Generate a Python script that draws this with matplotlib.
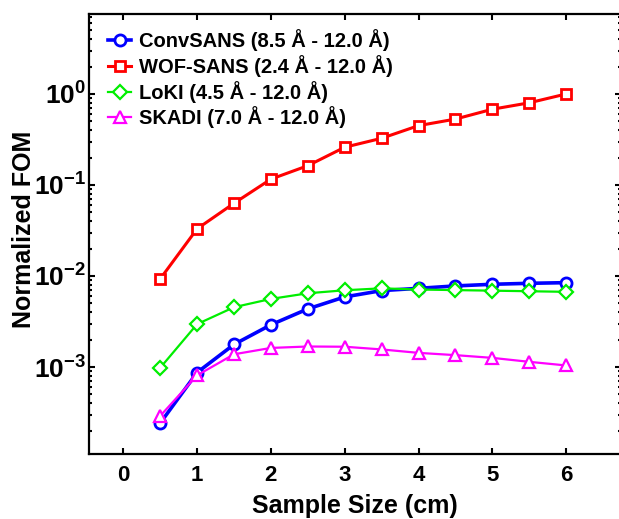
import matplotlib
matplotlib.use("Agg")
import matplotlib.pyplot as plt
from matplotlib.ticker import LogLocator, FixedLocator, NullFormatter, FixedFormatter

# sample sizes (cm) and normalized figure of merit for each instrument
sample_size = [0.5, 1.0, 1.5, 2.0, 2.5, 3.0, 3.5, 4.0, 4.5, 5.0, 5.5, 6.0]

fom_convsans = [2.42e-4, 8.7e-4, 1.77e-3, 2.91e-3, 4.35e-3, 5.89e-3,
                6.91e-3, 7.32e-3, 7.78e-3, 8.11e-3, 8.31e-3, 8.45e-3]
fom_wofsans = [9.3e-3, 0.033, 0.063, 0.116, 0.163, 0.26,
               0.326, 0.449, 0.53, 0.68, 0.80, 1.0]
fom_loki = [9.8e-4, 2.96e-3, 4.54e-3, 5.6e-3, 6.46e-3, 6.97e-3,
            7.32e-3, 7.1e-3, 7.0e-3, 6.9e-3, 6.8e-3, 6.7e-3]
fom_skadi = [2.9e-4, 8.1e-4, 1.38e-3, 1.62e-3, 1.68e-3, 1.67e-3,
             1.56e-3, 1.43e-3, 1.35e-3, 1.26e-3, 1.14e-3, 1.04e-3]

labels = ["ConvSANS (8.5 Å - 12.0 Å)",
          "WOF-SANS (2.4 Å - 12.0 Å)",
          "LoKI (4.5 Å - 12.0 Å)",
          "SKADI (7.0 Å - 12.0 Å)"]

x_ticks = [0, 1, 2, 3, 4, 5, 6]
y_ticks = [1e-3, 1e-2, 1e-1, 1e0]
y_ticklabels = [r"$\mathbf{10^{-3}}$", r"$\mathbf{10^{-2}}$",
                r"$\mathbf{10^{-1}}$", r"$\mathbf{10^{0}}$"]

plt.rcParams["font.family"] = ["Liberation Sans", "DejaVu Sans"]
plt.rcParams["font.weight"] = "bold"
plt.rcParams["mathtext.fontset"] = "custom"
plt.rcParams["mathtext.bf"] = "Liberation Sans:bold"
plt.rcParams["mathtext.rm"] = "Liberation Sans:bold"

fig = plt.figure(figsize=(6.19, 5.19), dpi=100)
ax = fig.add_axes([89/619, 65/519, 532/619, 440/519])

ax.plot(sample_size, fom_convsans, color="#0000ff", lw=2.6, marker="o",
        ms=8, mew=2.0, mfc="white", label=labels[0])
ax.plot(sample_size, fom_wofsans, color="#ff0000", lw=2.2, marker="s",
        ms=7, mew=2.0, mfc="white", label=labels[1])
ax.plot(sample_size, fom_loki, color="#00ee00", lw=1.6, marker="D",
        ms=7, mew=1.6, mfc="white", label=labels[2])
ax.plot(sample_size, fom_skadi, color="#ff00ff", lw=1.6, marker="^",
        ms=8.5, mew=1.6, mfc="white", label=labels[3])

ax.set_yscale("log")
ax.set_xlim(-0.465, 6.744)
ax.set_ylim(10**-3.956, 10**0.879)

ax.xaxis.set_major_locator(FixedLocator(x_ticks))
ax.yaxis.set_major_locator(FixedLocator(y_ticks))
ax.yaxis.set_major_formatter(FixedFormatter(y_ticklabels))
ax.yaxis.set_minor_locator(LogLocator(base=10, subs=range(2, 10), numticks=20))
ax.yaxis.set_minor_formatter(NullFormatter())

ax.tick_params(which="both", direction="in", top=True, right=True, width=1.5,
               colors="black")
ax.tick_params(which="major", length=4)
ax.tick_params(which="minor", length=2.5)
ax.tick_params(axis="x", labelsize=16, pad=8)
ax.tick_params(axis="y", labelsize=19, pad=2)
for s in ax.spines.values():
    s.set_linewidth(1.6)

ax.set_xlabel("Sample Size (cm)", fontsize=18, fontweight="bold", labelpad=6)
ax.set_ylabel("Normalized FOM", fontsize=18, fontweight="bold")
ax.yaxis.set_label_coords(-0.100, 0.511)

ax.legend(loc="upper left", bbox_to_anchor=(108/619, 1 - 29/519),
          bbox_transform=fig.transFigure, frameon=False, fontsize=14.5,
          handlelength=1.15, handletextpad=0.4, labelspacing=0.19,
          borderpad=0, borderaxespad=0)

fig.savefig("out.png", dpi=100)
